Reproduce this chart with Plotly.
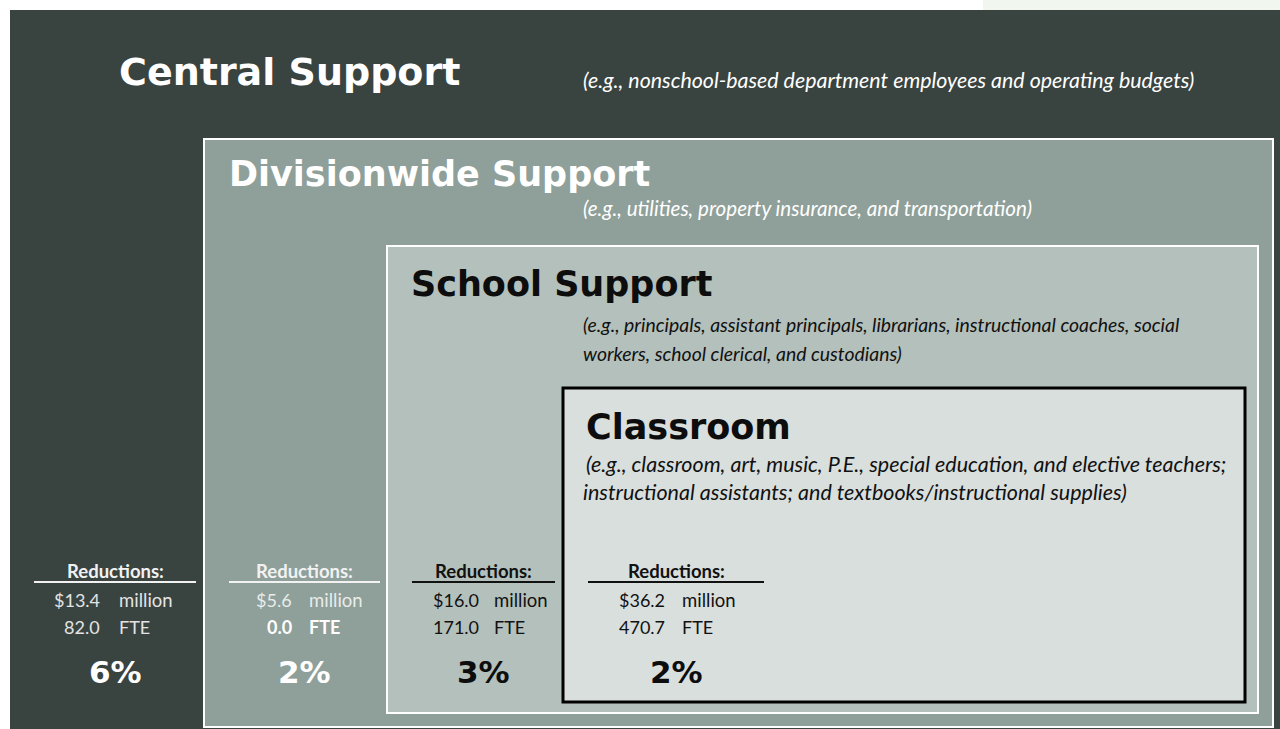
import plotly.graph_objects as go

# ---- data -------------------------------------------------------------
levels = ["Central Support", "Divisionwide Support", "School Support", "Classroom"]
examples = [
    ["(e.g., nonschool-based department employees and operating budgets)"],
    ["(e.g., utilities, property insurance, and transportation)"],
    ["(e.g., principals, assistant principals, librarians, instructional coaches, social",
     "workers, school clerical, and custodians)"],
    ["(e.g., classroom, art, music, P.E., special education, and elective teachers;",
     "instructional assistants; and textbooks/instructional supplies)"],
]
reduction_millions = [13.4, 5.6, 16.0, 36.2]
reduction_fte = [82.0, 0.0, 171.0, 470.7]
reduction_pct = [6, 2, 3, 2]

# ---- layout constants (pixel space, y grows downward) -----------------
W, H = 1280, 729
PANEL_FILL = ["#394340", "#8f9f99", "#b4c0bb", "#d9dfdd"]
PANEL_BOX = [(10, 10, 1280, 729), (204, 139, 1273, 727),
             (387, 246, 1258, 713), (563, 388, 1245, 702)]
PANEL_LINE = [None, ("white", 2), ("white", 2), ("black", 3)]

TITLE_POS = [(117, 72), (227, 174), (409, 284), (584, 427)]
TITLE_SIZE = [38, 35, 35, 35]
TITLE_COLOR = ["white", "white", "#0d0d0d", "#0d0d0d"]
EX_POS = [[(581, 80)], [(581, 208)], [(581, 324), (581, 353)],
          [(584, 464), (581, 492)]]
EX_SIZE = [21.4, 20.6, 19.4, 21.5]
EX_COLOR = ["white", "white", "#111111", "#111111"]

BLOCK_CENTER = [115, 304, 483, 676]
UNDERLINE = [(34, 196), (229, 380), (412, 555), (588, 764)]
NUM_RIGHT = [102, 294, 481, 667]
UNIT_LEFT = [117, 307, 492, 680]
Y_HEAD, Y_RULE, Y_MIL, Y_FTE, Y_PCT = 571, 582, 600, 627, 672
TXT_LIGHT = ["#f2f2f2", "#f2f2f2", "#111111", "#111111"]
TXT_SOFT = ["#e4e4e4", "#e8ecea", "#111111", "#111111"]

TITLE_FONT = "DejaVu Sans"
BODY_FONT = "Lato"

fig = go.Figure()

shapes = [dict(type="rect", xref="x", yref="y", x0=983, y0=0, x1=1280, y1=10,
               fillcolor="#f1f6ef", line=dict(width=0), layer="below")]
for fill, (x0, y0, x1, y1), ln in zip(PANEL_FILL, PANEL_BOX, PANEL_LINE):
    line = dict(width=0) if ln is None else dict(color=ln[0], width=ln[1])
    shapes.append(dict(type="rect", xref="x", yref="y", x0=x0, y0=y0, x1=x1, y1=y1,
                       fillcolor=fill, line=line, layer="below"))

annotations = []


def add_text(x, y, text, size, color, family=BODY_FONT, xanchor="left"):
    annotations.append(dict(x=x, y=y, xref="x", yref="y", text=text, showarrow=False,
                            xanchor=xanchor, yanchor="middle",
                            font=dict(family=family, size=size, color=color)))


for i, name in enumerate(levels):
    tx, ty = TITLE_POS[i]
    add_text(tx, ty, f"<b>{name}</b>", TITLE_SIZE[i], TITLE_COLOR[i], TITLE_FONT)
    for (ex, ey), line in zip(EX_POS[i], examples[i]):
        add_text(ex, ey, f"<i>{line}</i>", EX_SIZE[i], EX_COLOR[i])

    cx = BLOCK_CENTER[i]
    head_col = TXT_LIGHT[i]
    add_text(cx, Y_HEAD, "<b>Reductions:</b>", 18.5, head_col, xanchor="center")
    u0, u1 = UNDERLINE[i]
    shapes.append(dict(type="line", xref="x", yref="y", x0=u0, x1=u1,
                       y0=Y_RULE, y1=Y_RULE, line=dict(color=head_col, width=2)))

    add_text(NUM_RIGHT[i], Y_MIL, f"${reduction_millions[i]:.1f}", 18, TXT_SOFT[i],
             xanchor="right")
    add_text(UNIT_LEFT[i], Y_MIL, "million", 18.5, TXT_SOFT[i])

    fte_num = f"{reduction_fte[i]:.1f}"
    fte_col = TXT_SOFT[i]
    if reduction_fte[i] == 0:
        fte_num, fte_unit, fte_col = f"<b>{fte_num}</b>", "<b>FTE</b>", "#ffffff"
    else:
        fte_unit = "FTE"
    add_text(NUM_RIGHT[i], Y_FTE, fte_num, 18, fte_col, xanchor="right")
    add_text(UNIT_LEFT[i], Y_FTE, fte_unit, 18, fte_col)

    add_text(BLOCK_CENTER[i], Y_PCT, f"<b>{reduction_pct[i]}%</b>", 31,
             "#ffffff" if i < 2 else "#0d0d0d", TITLE_FONT, xanchor="center")

fig.update_layout(
    width=W, height=H,
    margin=dict(l=0, r=0, t=0, b=0),
    paper_bgcolor="white", plot_bgcolor="white",
    showlegend=False,
    shapes=shapes, annotations=annotations,
    xaxis=dict(range=[0, W], visible=False, fixedrange=True),
    yaxis=dict(range=[H, 0], visible=False, fixedrange=True),
)

fig.write_html("out.html", config={"displayModeBar": False})
